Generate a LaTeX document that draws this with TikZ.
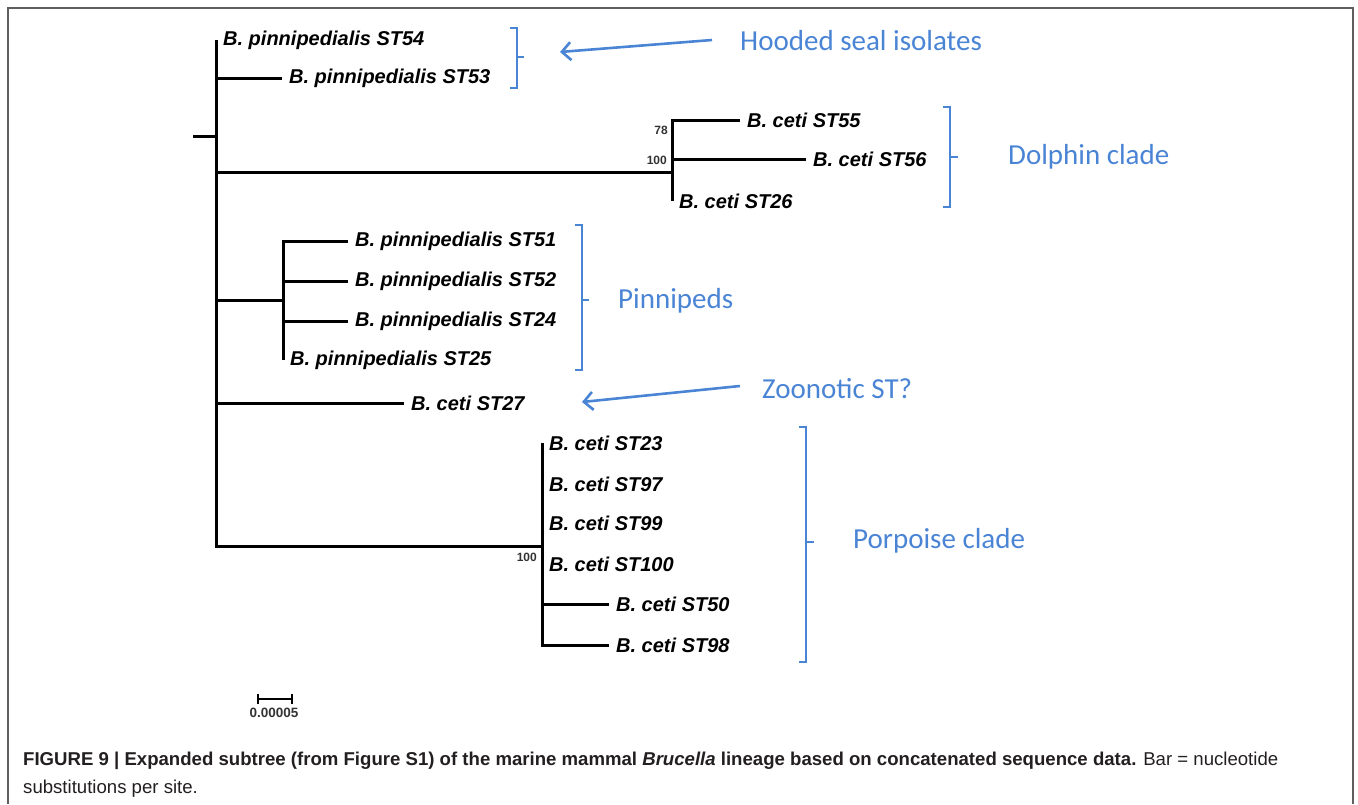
\documentclass[tikz,border=0pt]{standalone}
\usepackage{fontspec}
\setmainfont{Liberation Sans}
\newfontfamily\calib{Carlito}
\usetikzlibrary{arrows.meta}
\definecolor{cladeblue}{RGB}{74,132,212}
\definecolor{capgray}{RGB}{35,31,32}
\definecolor{framegray}{RGB}{95,95,95}

\begin{document}
\begin{tikzpicture}[x=1pt,y=-1pt,
  branch/.style={line width=3pt},
  leaf/.style={anchor=west,inner xsep=7pt,inner ysep=0pt,font=\fontsize{20}{23}\selectfont\bfseries\itshape},
  boot/.style={inner sep=0pt,text=black!80,font=\fontsize{12}{14}\selectfont\bfseries},
  brk/.style={cladeblue,line width=1.8pt},
  note/.style={anchor=west,inner sep=0pt,text=cladeblue,font=\calib\fontsize{29}{34}\selectfont},
  callout/.style={cladeblue,line width=2.6pt,-{Straight Barb[length=9pt,width=18pt]}}]
  \useasboundingbox (0,0) rectangle (1358,804);
  \draw[framegray,line width=1.2pt] (8,804) -- (8,8) -- (1353,8) -- (1353,804);

  % inner nodes of the tree
  \coordinate (base) at (193,136);
  \coordinate (rt) at (216,136);
  \coordinate (dol) at (672,172);
  \coordinate (pin) at (283,300);
  \coordinate (por) at (542,546);

  % leaves
  \node[leaf] (st54) at (216,40) {B. pinnipedialis ST54};
  \node[leaf] (st53) at (282,78) {B. pinnipedialis ST53};
  \node[leaf] (st55) at (740,120) {B. ceti ST55};
  \node[leaf] (st56) at (806,159) {B. ceti ST56};
  \node[leaf] (st26) at (672,201) {B. ceti ST26};
  \node[leaf] (st51) at (348,241) {B. pinnipedialis ST51};
  \node[leaf] (st52) at (348,281) {B. pinnipedialis ST52};
  \node[leaf] (st24) at (348,321) {B. pinnipedialis ST24};
  \node[leaf] (st25) at (283,360) {B. pinnipedialis ST25};
  \node[leaf] (st27) at (404,403) {B. ceti ST27};
  \node[leaf] (st23) at (542,443) {B. ceti ST23};
  \node[leaf] (st97) at (542,484) {B. ceti ST97};
  \node[leaf] (st99) at (542,523) {B. ceti ST99};
  \node[leaf] (st100) at (542,564) {B. ceti ST100};
  \node[leaf] (st50) at (609,604) {B. ceti ST50};
  \node[leaf] (st98) at (609,645) {B. ceti ST98};

  % branches
  \draw[branch] (base) -- (rt);
  \draw[branch] (rt) |- (st54.west);
  \draw[branch] (rt) |- (st53.west);
  \draw[branch] (rt) |- (dol);
  \draw[branch] (rt) |- (pin);
  \draw[branch] (rt) |- (st27.west);
  \draw[branch] (rt) |- (por);
  \draw[branch] (dol) |- (st55.west);
  \draw[branch] (dol) |- (st56.west);
  \draw[branch] (dol) |- (st26.west);
  \draw[branch] (pin) |- (st51.west);
  \draw[branch] (pin) |- (st52.west);
  \draw[branch] (pin) |- (st24.west);
  \draw[branch] (pin) |- (st25.west);
  \draw[branch] (por) |- (st23.west);
  \draw[branch] (por) |- (st97.west);
  \draw[branch] (por) |- (st99.west);
  \draw[branch] (por) |- (st100.west);
  \draw[branch] (por) |- (st50.west);
  \draw[branch] (por) |- (st98.west);

  % bootstrap values
  \node[boot,anchor=east] (bs78) at (668,130) {78};
  \node[boot,anchor=east] (bsdol) at (667,160) {100};
  \node[boot,anchor=east] (bspor) at (537,557) {100};

  % scale bar
  \coordinate (sca) at (258,699);
  \coordinate (scb) at (292,699);
  \draw[line width=2.4pt] (sca) -- (scb);
  \draw[line width=2pt] ([yshift=-5pt]sca) -- ([yshift=5pt]sca);
  \draw[line width=2pt] ([yshift=-5pt]scb) -- ([yshift=5pt]scb);
  \node[boot,font=\fontsize{13.5}{15}\selectfont\bfseries] (scl) at (274,713) {0.00005};

  % clade brackets
  \draw[brk] (510,28) -- (517,28) -- (517,88) -- (510,88);
  \draw[brk] (517,57) -- (524,57);
  \draw[brk] (943,107) -- (950,107) -- (950,207) -- (943,207);
  \draw[brk] (950,157) -- (958,157);
  \draw[brk] (575,225) -- (582,225) -- (582,370) -- (575,370);
  \draw[brk] (582,300) -- (589,300);
  \draw[brk] (799,427) -- (806,427) -- (806,662) -- (799,662);
  \draw[brk] (806,542) -- (814,542);

  % notes
  \node[note] (hood) at (740,41) {Hooded seal isolates};
  \node[note] (dolph) at (1008,157) {Dolphin clade};
  \node[note] (pinn) at (618,301) {Pinnipeds};
  \node[note] (zoon) at (762,389) {Zoonotic ST?};
  \node[note] (porp) at (853,541) {Porpoise clade};
  \coordinate (hoodtip) at (560,52);
  \coordinate (zoontip) at (582,402);
  \draw[callout] ([xshift=-28pt,yshift=1pt]hood.west) -- (hoodtip);
  \draw[callout] ([xshift=-22pt,yshift=3pt]zoon.west) -- (zoontip);

  % caption
  \node[anchor=north west,inner sep=0pt,align=left,text=capgray,
    font=\fontsize{18.6}{28}\selectfont] (cap) at (23,752)
    {\textbf{FIGURE 9 | Expanded subtree (from Figure S1) of the marine mammal \textit{Brucella} lineage based on concatenated sequence data.} Bar = nucleotide\\
    substitutions per site.};
\end{tikzpicture}
\end{document}
